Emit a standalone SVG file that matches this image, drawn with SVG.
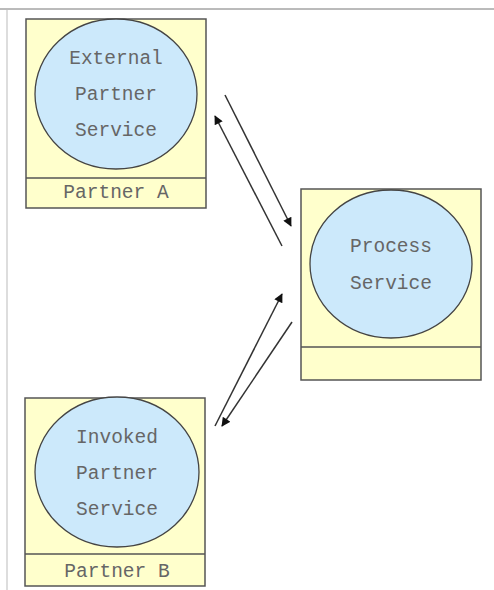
<svg xmlns="http://www.w3.org/2000/svg" width="494" height="590" viewBox="0 0 494 590">
<style>
.box{fill:#ffffcc;stroke:#555;stroke-width:1.5}
.ell{fill:#cce9fb;stroke:#444;stroke-width:1.3}
.t{font-family:"Liberation Mono","Courier New",monospace;font-size:19.5px;fill:#666;text-anchor:middle}
.c{stroke:#333;stroke-width:1.5;fill:none;marker-end:url(#ah)}
</style>
<defs>
<marker id="ah" viewBox="0 0 10 10" refX="9" refY="5" markerWidth="10" markerHeight="9" markerUnits="userSpaceOnUse" orient="auto">
<path d="M0,0 L10,5 L0,10 z" fill="#111"/>
</marker>
</defs>
<rect width="494" height="590" fill="#fff"/>
<line x1="0" y1="9" x2="494" y2="9" stroke="#777" stroke-width="1"/>
<line x1="7" y1="9" x2="7" y2="590" stroke="#bbb" stroke-width="1"/>
<g id="partnerA">
<rect class="box" x="26" y="19" width="180" height="189"/>
<line x1="26" y1="178" x2="206" y2="178" stroke="#555" stroke-width="1.5"/>
<ellipse class="ell" cx="116" cy="94" rx="81" ry="75"/>
<text class="t" x="116" y="64">External</text>
<text class="t" x="116" y="100">Partner</text>
<text class="t" x="116" y="136">Service</text>
<text class="t" x="116" y="198">Partner A</text>
</g>
<g id="process">
<rect class="box" x="301" y="189" width="180" height="191"/>
<line x1="301" y1="347" x2="481" y2="347" stroke="#555" stroke-width="1.5"/>
<ellipse class="ell" cx="391" cy="264" rx="81" ry="74"/>
<text class="t" x="391" y="252">Process</text>
<text class="t" x="391" y="289">Service</text>
</g>
<g id="partnerB">
<rect class="box" x="25" y="398" width="180" height="188"/>
<line x1="25" y1="554" x2="205" y2="554" stroke="#555" stroke-width="1.5"/>
<ellipse class="ell" cx="117" cy="472" rx="82" ry="75"/>
<text class="t" x="117" y="443">Invoked</text>
<text class="t" x="117" y="479">Partner</text>
<text class="t" x="117" y="515">Service</text>
<text class="t" x="117" y="577">Partner B</text>
</g>
<g id="connectors">
<line class="c" x1="225" y1="95" x2="291" y2="226"/>
<line class="c" x1="282" y1="246" x2="215" y2="116"/>
<line class="c" x1="215" y1="426" x2="282" y2="294"/>
<line class="c" x1="292" y1="322" x2="222" y2="426"/>
</g>
</svg>
